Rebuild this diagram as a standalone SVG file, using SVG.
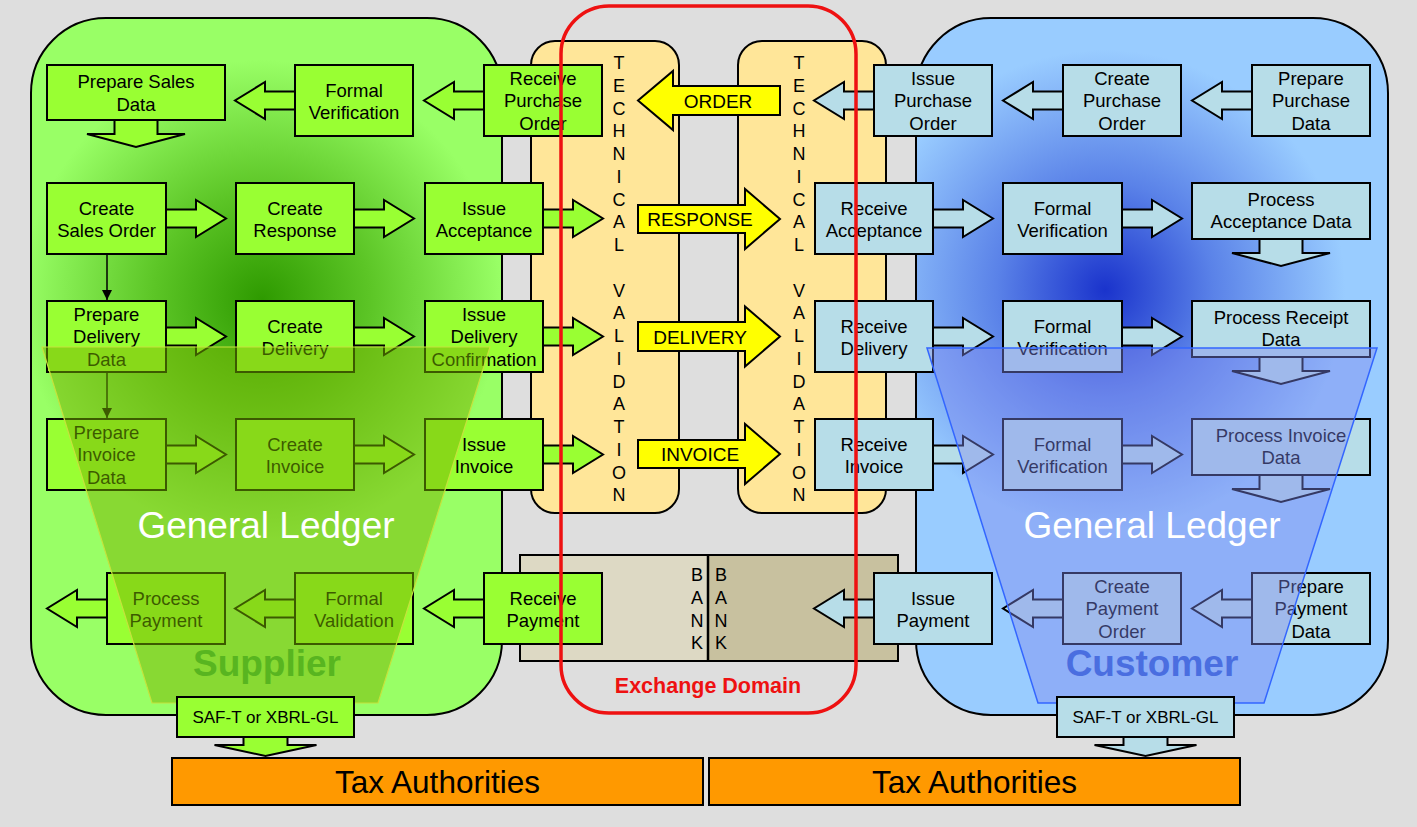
<svg xmlns="http://www.w3.org/2000/svg" width="1417" height="827" viewBox="0 0 1417 827">
<style>
.t{font-family:"Liberation Sans",Arial,sans-serif;font-size:18.5px;text-anchor:middle;fill:#000}
.lt{font-family:"Liberation Sans",Arial,sans-serif;font-size:18px;text-anchor:middle;fill:#000}
.ya{fill:#ffff00;stroke:#000;stroke-width:2}
.ytx{font-family:"Liberation Sans",Arial,sans-serif;font-size:19px;text-anchor:middle;fill:#000}
.sup{fill:#99ff33;stroke:#000;stroke-width:2}
.cus{fill:#b7dde8;stroke:#000;stroke-width:2}
.thin{stroke:#000;stroke-width:1.5;fill:none}
.gl{font-family:"Liberation Sans",Arial,sans-serif;font-size:37px;text-anchor:middle;fill:#fff}
.who{font-family:"Liberation Sans",Arial,sans-serif;font-size:37px;font-weight:bold;text-anchor:middle}
.tax{fill:#ff9900;stroke:#000;stroke-width:2}
.taxt{font-family:"Liberation Sans",Arial,sans-serif;font-size:31.5px;text-anchor:middle;fill:#000}
</style>
<defs>
<radialGradient id="gS" gradientUnits="userSpaceOnUse" cx="262" cy="300" r="240">
<stop offset="0" stop-color="#2e9a00"/><stop offset="0.45" stop-color="#5cc526"/><stop offset="1" stop-color="#99ff66"/>
</radialGradient>
<radialGradient id="gC" gradientUnits="userSpaceOnUse" cx="1105" cy="290" r="240">
<stop offset="0" stop-color="#1a33cc"/><stop offset="0.45" stop-color="#5a82e8"/><stop offset="1" stop-color="#99ccff"/>
</radialGradient>
<path id="arR" d="M-3,-9 H30 V-18.5 L60,0 L30,18.5 V9 H-3 Z"/>
<path id="arL" d="M3,-9 H-30 V-18.5 L-60,0 L-30,18.5 V9 H3 Z"/>
<path id="arD" d="M-21.5,-3 V14 H-49 L0,27 L49,14 H21.5 V-3 Z"/>
<path id="arS" d="M-22,-3 V8 H-51 L0,19 L51,8 H22 V-3 Z"/>
<marker id="mk" viewBox="0 0 10 10" refX="10" refY="5" markerWidth="13" markerHeight="10" markerUnits="userSpaceOnUse" orient="auto">
<path d="M0,0 L10,5 L0,10 Z" fill="#000"/>
</marker>
</defs>
<rect width="1417" height="827" fill="#dedede"/>

<g id="supplier-domain">
<rect x="31" y="18" width="471" height="697" rx="75" fill="url(#gS)" stroke="#000" stroke-width="2"/>
</g>
<g id="customer-domain">
<rect x="916" y="18" width="472" height="697" rx="75" fill="url(#gC)" stroke="#000" stroke-width="2"/>
</g>

<g id="tech-validation-left">
<rect x="531" y="41" width="148" height="472" rx="24" fill="#ffe699" stroke="#000" stroke-width="2"/>
<text class="lt"><tspan x="619" y="69">T</tspan><tspan x="619" y="91.75">E</tspan><tspan x="619" y="114.5">C</tspan><tspan x="619" y="137.25">H</tspan><tspan x="619" y="160">N</tspan><tspan x="619" y="182.75">I</tspan><tspan x="619" y="205.5">C</tspan><tspan x="619" y="228.25">A</tspan><tspan x="619" y="251">L</tspan><tspan x="619" y="296.5">V</tspan><tspan x="619" y="319.25">A</tspan><tspan x="619" y="342">L</tspan><tspan x="619" y="364.75">I</tspan><tspan x="619" y="387.5">D</tspan><tspan x="619" y="410.25">A</tspan><tspan x="619" y="433">T</tspan><tspan x="619" y="455.75">I</tspan><tspan x="619" y="478.5">O</tspan><tspan x="619" y="501.25">N</tspan></text>
</g>
<g id="tech-validation-right">
<rect x="738" y="41" width="148" height="472" rx="24" fill="#ffe699" stroke="#000" stroke-width="2"/>
<text class="lt"><tspan x="799" y="69">T</tspan><tspan x="799" y="91.75">E</tspan><tspan x="799" y="114.5">C</tspan><tspan x="799" y="137.25">H</tspan><tspan x="799" y="160">N</tspan><tspan x="799" y="182.75">I</tspan><tspan x="799" y="205.5">C</tspan><tspan x="799" y="228.25">A</tspan><tspan x="799" y="251">L</tspan><tspan x="799" y="296.5">V</tspan><tspan x="799" y="319.25">A</tspan><tspan x="799" y="342">L</tspan><tspan x="799" y="364.75">I</tspan><tspan x="799" y="387.5">D</tspan><tspan x="799" y="410.25">A</tspan><tspan x="799" y="433">T</tspan><tspan x="799" y="455.75">I</tspan><tspan x="799" y="478.5">O</tspan><tspan x="799" y="501.25">N</tspan></text>
</g>
<g id="bank">
<rect x="520" y="555" width="188" height="106" fill="#ddd9c4"/>
<rect x="708" y="555" width="190" height="106" fill="#c8c19f"/>
<rect x="520" y="555" width="378" height="106" fill="none" stroke="#000" stroke-width="2"/>
<line x1="708" y1="555" x2="708" y2="661" stroke="#000" stroke-width="2.5"/>
<text class="lt"><tspan x="697" y="581">B</tspan><tspan x="697" y="604">A</tspan><tspan x="697" y="626.5">N</tspan><tspan x="697" y="649">K</tspan></text>
<text class="lt"><tspan x="721" y="581">B</tspan><tspan x="721" y="604">A</tspan><tspan x="721" y="626.5">N</tspan><tspan x="721" y="649">K</tspan></text>
</g>

<g id="connectors">
<!-- supplier -->
<use href="#arL" x="295" y="100.5" class="sup"/>
<use href="#arL" x="484" y="100.5" class="sup"/>
<use href="#arD" x="136" y="120" class="sup"/>
<use href="#arR" x="166" y="218.5" class="sup"/>
<use href="#arR" x="354" y="218.5" class="sup"/>
<use href="#arR" x="543" y="218.5" class="sup"/>
<use href="#arR" x="166" y="336.5" class="sup"/>
<use href="#arR" x="354" y="336.5" class="sup"/>
<use href="#arR" x="543" y="336.5" class="sup"/>
<use href="#arR" x="166" y="454.5" class="sup"/>
<use href="#arR" x="354" y="454.5" class="sup"/>
<use href="#arR" x="543" y="454.5" class="sup"/>
<use href="#arL" x="107" y="608.5" class="sup"/>
<use href="#arL" x="295" y="608.5" class="sup"/>
<use href="#arL" x="484" y="608.5" class="sup"/>
<line x1="107" y1="254" x2="107" y2="300" class="thin" marker-end="url(#mk)"/>
<line x1="107" y1="372" x2="107" y2="418" class="thin" marker-end="url(#mk)"/>
<!-- customer -->
<use href="#arL" x="874" y="100.5" class="cus"/>
<use href="#arL" x="1063" y="100.5" class="cus"/>
<use href="#arL" x="1252" y="100.5" class="cus"/>
<use href="#arR" x="933" y="218.5" class="cus"/>
<use href="#arR" x="1122" y="218.5" class="cus"/>
<use href="#arR" x="933" y="336.5" class="cus"/>
<use href="#arR" x="1122" y="336.5" class="cus"/>
<use href="#arR" x="933" y="454.5" class="cus"/>
<use href="#arR" x="1122" y="454.5" class="cus"/>
<use href="#arD" x="1281" y="239" class="cus"/>
<use href="#arD" x="1281" y="357" class="cus"/>
<use href="#arD" x="1281" y="475" class="cus"/>
<use href="#arL" x="874" y="608.5" class="cus"/>
<use href="#arL" x="1063" y="608.5" class="cus"/>
<use href="#arL" x="1252" y="608.5" class="cus"/>
<!-- exchange messages -->
<g id="msg-order"><polygon class="ya" points="780,86 673,86 673,71 638,100.5 673,130 673,115 780,115"/><text class="ytx" x="718" y="107.5">ORDER</text></g>
<g id="msg-response"><polygon class="ya" points="638,205 745,205 745,189 780,219 745,249 745,233 638,233"/><text class="ytx" x="700" y="225.5">RESPONSE</text></g>
<g id="msg-delivery"><polygon class="ya" points="638,322 745,322 745,306.5 780,336.5 745,366.5 745,351 638,351"/><text class="ytx" x="700" y="343.5">DELIVERY</text></g>
<g id="msg-invoice"><polygon class="ya" points="638,440 745,440 745,424 780,454 745,484 745,468 638,468"/><text class="ytx" x="700" y="461">INVOICE</text></g>
</g>

<!-- supplier nodes -->
<g id="prepare-sales-data"><rect class="sup" x="47" y="65" width="178" height="55"/><text class="t"><tspan x="136" y="88">Prepare Sales</tspan><tspan x="136" y="110.5">Data</tspan></text></g>
<g id="formal-verification-s"><rect class="sup" x="295" y="65" width="118" height="71"/><text class="t"><tspan x="354" y="96.5">Formal</tspan><tspan x="354" y="119">Verification</tspan></text></g>
<g id="receive-purchase-order"><rect class="sup" x="484" y="65" width="118" height="71"/><text class="t"><tspan x="543" y="84.5">Receive</tspan><tspan x="543" y="107">Purchase</tspan><tspan x="543" y="129.5">Order</tspan></text></g>
<g id="create-sales-order"><rect class="sup" x="47" y="183" width="119" height="71"/><text class="t"><tspan x="106.5" y="214.5">Create</tspan><tspan x="106.5" y="237">Sales Order</tspan></text></g>
<g id="create-response"><rect class="sup" x="236" y="183" width="118" height="71"/><text class="t"><tspan x="295" y="214.5">Create</tspan><tspan x="295" y="237">Response</tspan></text></g>
<g id="issue-acceptance"><rect class="sup" x="425" y="183" width="118" height="71"/><text class="t"><tspan x="484" y="214.5">Issue</tspan><tspan x="484" y="237">Acceptance</tspan></text></g>
<g id="prepare-delivery-data"><rect class="sup" x="47" y="301" width="119" height="71"/><text class="t"><tspan x="106.5" y="320.5">Prepare</tspan><tspan x="106.5" y="343">Delivery</tspan><tspan x="106.5" y="365.5">Data</tspan></text></g>
<g id="create-delivery"><rect class="sup" x="236" y="301" width="118" height="71"/><text class="t"><tspan x="295" y="332.5">Create</tspan><tspan x="295" y="355">Delivery</tspan></text></g>
<g id="issue-delivery-confirmation"><rect class="sup" x="425" y="301" width="118" height="71"/><text class="t"><tspan x="484" y="320.5">Issue</tspan><tspan x="484" y="343">Delivery</tspan><tspan x="484" y="365.5">Confirmation</tspan></text></g>
<g id="prepare-invoice-data"><rect class="sup" x="47" y="419" width="119" height="71"/><text class="t"><tspan x="106.5" y="438.5">Prepare</tspan><tspan x="106.5" y="461">Invoice</tspan><tspan x="106.5" y="483.5">Data</tspan></text></g>
<g id="create-invoice"><rect class="sup" x="236" y="419" width="118" height="71"/><text class="t"><tspan x="295" y="450.5">Create</tspan><tspan x="295" y="473">Invoice</tspan></text></g>
<g id="issue-invoice"><rect class="sup" x="425" y="419" width="118" height="71"/><text class="t"><tspan x="484" y="450.5">Issue</tspan><tspan x="484" y="473">Invoice</tspan></text></g>
<g id="process-payment"><rect class="sup" x="107" y="573" width="118" height="71"/><text class="t"><tspan x="166" y="604.5">Process</tspan><tspan x="166" y="627">Payment</tspan></text></g>
<g id="formal-validation"><rect class="sup" x="295" y="573" width="118" height="71"/><text class="t"><tspan x="354" y="604.5">Formal</tspan><tspan x="354" y="627">Validation</tspan></text></g>
<g id="receive-payment"><rect class="sup" x="484" y="573" width="118" height="71"/><text class="t"><tspan x="543" y="604.5">Receive</tspan><tspan x="543" y="627">Payment</tspan></text></g>

<!-- customer nodes -->
<g id="issue-purchase-order"><rect class="cus" x="874" y="65" width="118" height="71"/><text class="t"><tspan x="933" y="84.5">Issue</tspan><tspan x="933" y="107">Purchase</tspan><tspan x="933" y="129.5">Order</tspan></text></g>
<g id="create-purchase-order"><rect class="cus" x="1063" y="65" width="118" height="71"/><text class="t"><tspan x="1122" y="84.5">Create</tspan><tspan x="1122" y="107">Purchase</tspan><tspan x="1122" y="129.5">Order</tspan></text></g>
<g id="prepare-purchase-data"><rect class="cus" x="1252" y="65" width="118" height="71"/><text class="t"><tspan x="1311" y="84.5">Prepare</tspan><tspan x="1311" y="107">Purchase</tspan><tspan x="1311" y="129.5">Data</tspan></text></g>
<g id="receive-acceptance"><rect class="cus" x="815" y="183" width="118" height="71"/><text class="t"><tspan x="874" y="214.5">Receive</tspan><tspan x="874" y="237">Acceptance</tspan></text></g>
<g id="formal-verification-c1"><rect class="cus" x="1003" y="183" width="119" height="71"/><text class="t"><tspan x="1062.5" y="214.5">Formal</tspan><tspan x="1062.5" y="237">Verification</tspan></text></g>
<g id="process-acceptance-data"><rect class="cus" x="1192" y="183" width="178" height="56"/><text class="t"><tspan x="1281" y="206">Process</tspan><tspan x="1281" y="228">Acceptance Data</tspan></text></g>
<g id="receive-delivery"><rect class="cus" x="815" y="301" width="118" height="71"/><text class="t"><tspan x="874" y="332.5">Receive</tspan><tspan x="874" y="355">Delivery</tspan></text></g>
<g id="formal-verification-c2"><rect class="cus" x="1003" y="301" width="119" height="71"/><text class="t"><tspan x="1062.5" y="332.5">Formal</tspan><tspan x="1062.5" y="355">Verification</tspan></text></g>
<g id="process-receipt-data"><rect class="cus" x="1192" y="301" width="178" height="56"/><text class="t"><tspan x="1281" y="324">Process Receipt</tspan><tspan x="1281" y="346">Data</tspan></text></g>
<g id="receive-invoice"><rect class="cus" x="815" y="419" width="118" height="71"/><text class="t"><tspan x="874" y="450.5">Receive</tspan><tspan x="874" y="473">Invoice</tspan></text></g>
<g id="formal-verification-c3"><rect class="cus" x="1003" y="419" width="119" height="71"/><text class="t"><tspan x="1062.5" y="450.5">Formal</tspan><tspan x="1062.5" y="473">Verification</tspan></text></g>
<g id="process-invoice-data"><rect class="cus" x="1192" y="419" width="178" height="56"/><text class="t"><tspan x="1281" y="442">Process Invoice</tspan><tspan x="1281" y="464">Data</tspan></text></g>
<g id="issue-payment"><rect class="cus" x="874" y="573" width="118" height="71"/><text class="t"><tspan x="933" y="604.5">Issue</tspan><tspan x="933" y="627">Payment</tspan></text></g>
<g id="create-payment-order"><rect class="cus" x="1063" y="573" width="118" height="71"/><text class="t"><tspan x="1122" y="592.5">Create</tspan><tspan x="1122" y="615">Payment</tspan><tspan x="1122" y="637.5">Order</tspan></text></g>
<g id="prepare-payment-data"><rect class="cus" x="1252" y="573" width="118" height="71"/><text class="t"><tspan x="1311" y="592.5">Prepare</tspan><tspan x="1311" y="615">Payment</tspan><tspan x="1311" y="637.5">Data</tspan></text></g>

<!-- general ledger overlays -->
<g id="general-ledger-supplier">
<polygon points="42,347 490,347 378,703 152,703" fill="#77b300" fill-opacity="0.5" stroke="#c6e23c" stroke-width="1.2"/>
<text class="gl" x="266" y="538">General Ledger</text>
<text class="who" x="267" y="676" fill="#58b520">Supplier</text>
</g>
<g id="general-ledger-customer">
<polygon points="927,348 1377,348 1264,703 1038,703" fill="#7f88ee" fill-opacity="0.42" stroke="#3366ff" stroke-width="1.5"/>
<text class="gl" x="1152" y="538">General Ledger</text>
<text class="who" x="1152" y="676" fill="#4a6ee0">Customer</text>
</g>

<g id="saft-supplier">
<use href="#arS" x="265.5" y="737" class="sup"/>
<rect class="sup" x="177" y="697" width="177" height="40"/>
<text class="t" x="265.5" y="723" style="font-size:17px">SAF-T or XBRL-GL</text>
</g>
<g id="saft-customer">
<use href="#arS" x="1145.5" y="737" class="cus"/>
<rect class="cus" x="1057" y="697" width="177" height="40"/>
<text class="t" x="1145.5" y="723" style="font-size:17px">SAF-T or XBRL-GL</text>
</g>

<g id="tax-authorities-left"><rect class="tax" x="172" y="758" width="531" height="47"/><text class="taxt" x="437.5" y="793">Tax Authorities</text></g>
<g id="tax-authorities-right"><rect class="tax" x="709" y="758" width="531" height="47"/><text class="taxt" x="974.5" y="793">Tax Authorities</text></g>

<g id="exchange-domain">
<rect x="561" y="6" width="295" height="707" rx="48" fill="none" stroke="#ee1111" stroke-width="3.5"/>
<text x="708" y="693" style="font-family:'Liberation Sans',Arial,sans-serif;font-size:21.5px;font-weight:bold;text-anchor:middle;fill:#ee1111">Exchange Domain</text>
</g>
</svg>
